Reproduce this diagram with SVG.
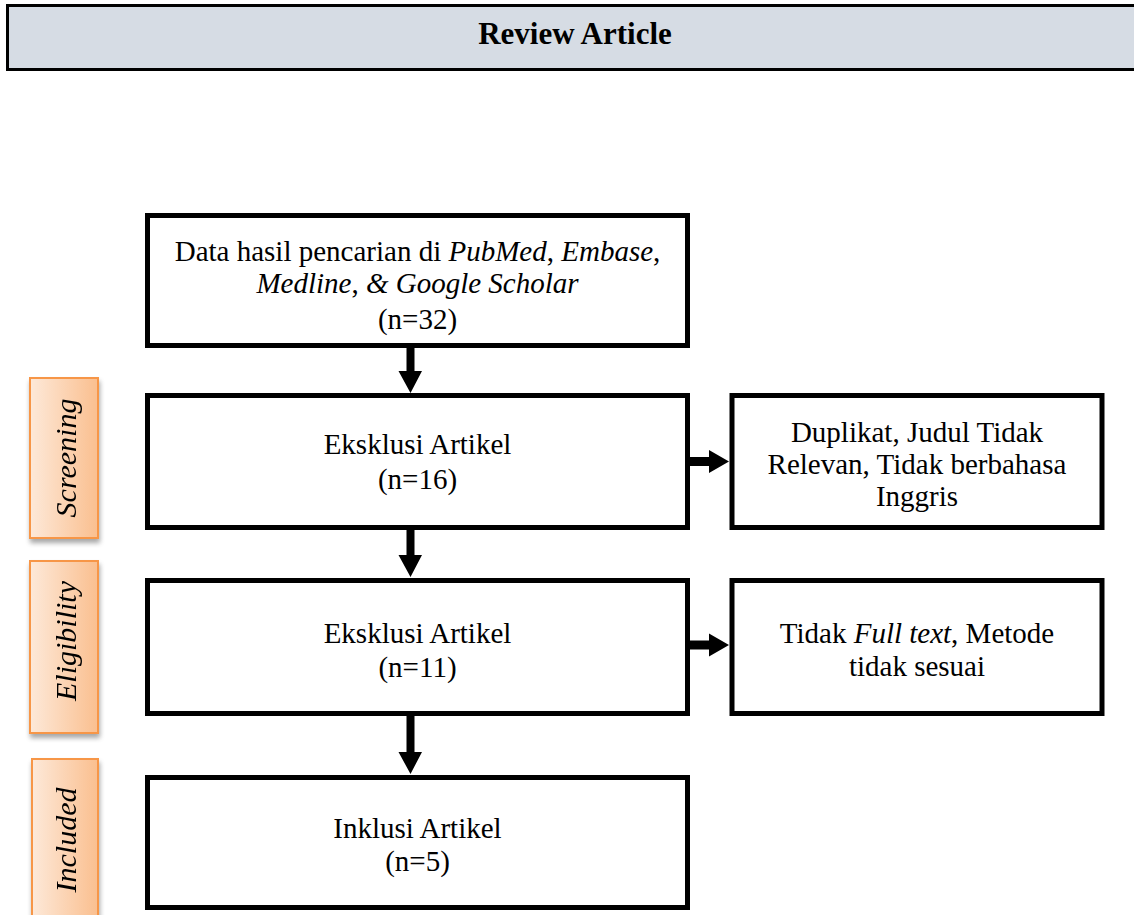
<svg xmlns="http://www.w3.org/2000/svg" width="1134" height="915" viewBox="0 0 1134 915">
<defs>
<linearGradient id="og" x1="0" y1="0" x2="1" y2="0">
<stop offset="0" stop-color="#fde9d9"/>
<stop offset="1" stop-color="#fabf8f"/>
</linearGradient>
<filter id="sh" x="-20%" y="-20%" width="140%" height="140%">
<feGaussianBlur in="SourceAlpha" stdDeviation="2.5"/>
<feOffset dx="1" dy="4" result="b"/>
<feComponentTransfer><feFuncA type="linear" slope="0.35"/></feComponentTransfer>
<feMerge><feMergeNode/><feMergeNode in="SourceGraphic"/></feMerge>
</filter>
</defs>
<style>
.box{fill:#fff;stroke:#000;stroke-width:5}
.t{font-family:"Liberation Serif","Times New Roman",serif;font-size:29px;fill:#000;text-anchor:middle}
.i{font-style:italic}
.side{fill:url(#og);stroke:#f79646;stroke-width:2}
.st{font-family:"Liberation Serif","Times New Roman",serif;font-size:30px;font-style:italic;fill:#000;text-anchor:middle}
.arr{fill:#000}
</style>
<rect width="1134" height="915" fill="#fff"/>
<g id="header">
<rect x="7.5" y="5.5" width="1140" height="64" fill="#d6dce4" stroke="#000" stroke-width="3"/>
<text x="575" y="44" font-family="Liberation Serif,'Times New Roman',serif" font-size="31" font-weight="bold" text-anchor="middle">Review Article</text>
</g>
<g id="label-screening" filter="url(#sh)">
<rect class="side" x="30" y="378" width="68" height="160"/>
<text class="st" transform="translate(76,458) rotate(-90)">Screening</text>
</g>
<g id="label-eligibility" filter="url(#sh)">
<rect class="side" x="30" y="561" width="68" height="172"/>
<text class="st" transform="translate(76,641) rotate(-90)">Eligibility</text>
</g>
<g id="label-included" filter="url(#sh)">
<rect class="side" x="32" y="759" width="66" height="170"/>
<text class="st" transform="translate(76,840) rotate(-90)">Included</text>
</g>
<g id="n1">
<rect class="box" x="147.5" y="215.5" width="540" height="130"/>
<text class="t" x="417.5" y="261">Data hasil pencarian di <tspan class="i">PubMed</tspan>, <tspan class="i">Embase</tspan>,</text>
<text class="t" x="417.5" y="293"><tspan class="i">Medline</tspan>, <tspan class="i">&amp; Google Scholar</tspan></text>
<text class="t" x="417.5" y="329">(n=32)</text>
</g>
<g id="n2">
<rect class="box" x="147.5" y="395.5" width="540" height="132"/>
<text class="t" x="417.5" y="454">Eksklusi Artikel</text>
<text class="t" x="417.5" y="489">(n=16)</text>
</g>
<g id="r1">
<rect class="box" x="732" y="395.5" width="370" height="132"/>
<text class="t" x="917" y="442">Duplikat, Judul Tidak</text>
<text class="t" x="917" y="474">Relevan, Tidak berbahasa</text>
<text class="t" x="917" y="506">Inggris</text>
</g>
<g id="n3">
<rect class="box" x="147.5" y="580.5" width="540" height="133"/>
<text class="t" x="417.5" y="643">Eksklusi Artikel</text>
<text class="t" x="417.5" y="677">(n=11)</text>
</g>
<g id="r2">
<rect class="box" x="732" y="580.5" width="370" height="133"/>
<text class="t" x="917" y="643">Tidak <tspan class="i">Full text</tspan>, Metode</text>
<text class="t" x="917" y="676">tidak sesuai</text>
</g>
<g id="n4">
<rect class="box" x="147.5" y="777.5" width="540" height="130"/>
<text class="t" x="417.5" y="838">Inklusi Artikel</text>
<text class="t" x="417.5" y="871">(n=5)</text>
</g>
<g id="connectors" class="arr">
<path d="M406.5 348 H414.5 V371 H422 L410.5 393 L398.5 371 H406.5 Z"/>
<path d="M406.5 530 H414.5 V555 H422 L410.5 577 L398.5 555 H406.5 Z"/>
<path d="M406.5 716 H414.5 V752 H422 L410.5 774 L398.5 752 H406.5 Z"/>
<path d="M690 457 V466 H709 V473 L729 461.5 L709 450 V457 Z"/>
<path d="M690 640.5 V649.5 H709 V656.5 L729 645 L709 633.5 V640.5 Z"/>
</g>
</svg>
